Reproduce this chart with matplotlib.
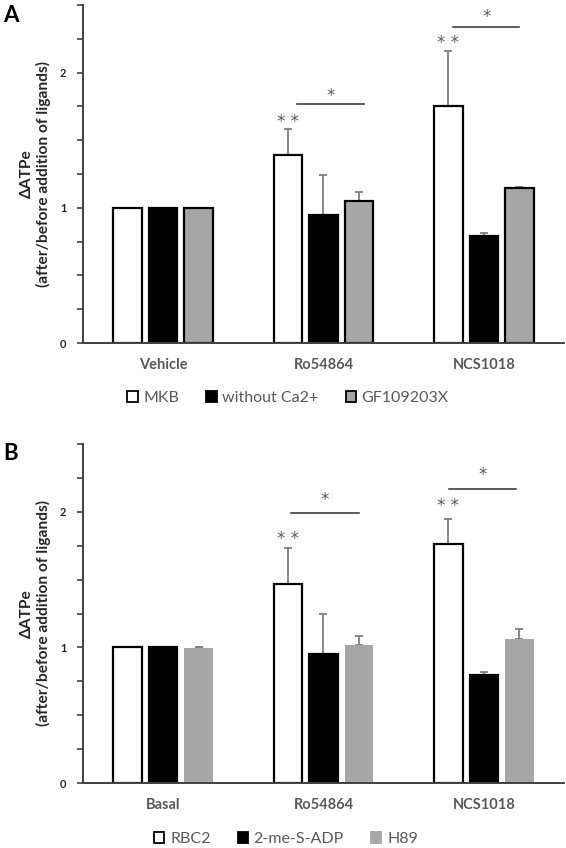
import matplotlib
matplotlib.use("Agg")
import matplotlib.pyplot as plt
import numpy as np
from matplotlib.patches import Patch

plt.rcParams['font.family'] = ['Lato', 'DejaVu Sans']

# ---- data ----
cats_a = ["Vehicle", "Ro54864", "NCS1018"]
series_a = ["MKB", "without Ca2+", "GF109203X"]
mkb = [1.0, 1.39, 1.75]
mkb_err = [0.0, 0.19, 0.41]
noca = [1.0, 0.95, 0.79]
noca_err = [0.0, 0.29, 0.02]
gf = [1.0, 1.05, 1.15]
gf_err = [0.0, 0.07, 0.005]

cats_b = ["Basal", "Ro54864", "NCS1018"]
series_b = ["RBC2", "2-me-S-ADP", "H89"]
rbc2 = [1.0, 1.47, 1.76]
rbc2_err = [0.0, 0.26, 0.19]
mesadp = [1.0, 0.955, 0.795]
mesadp_err = [0.0, 0.29, 0.02]
h89 = [0.995, 1.02, 1.06]
h89_err = [0.005, 0.065, 0.075]

# significance annotations: (category index, y of ** , bracket y, star y, x0, x1)
sig_a = [(1, 1.635, 1.77, 1.83, -0.165, 0.25), (2, 2.22, 2.34, 2.41, -0.19, 0.22)]
sig_b = [(1, 1.80, 1.99, 2.09, -0.20, 0.22), (2, 2.04, 2.17, 2.27, -0.215, 0.20)]

W, H = 566, 848
fig = plt.figure(figsize=(W / 100, H / 100), dpi=100)

GREY = "#a6a6a6"
ERRC = "#7f7f7f"
TXT = "#595959"
AXC = "#404040"


def panel(rect, cats, names, vals, errs, colors, edges, sig, letter, letter_y, leg_x, leg_y):
    ax = fig.add_axes(rect)
    x = np.arange(len(cats))
    off = 0.222
    bw = 0.178
    for i, (v, e, c, ec) in enumerate(zip(vals, errs, colors, edges)):
        pos = x + (i - 1) * off
        ax.bar(pos, v, width=bw, color=c, edgecolor=ec, linewidth=1.6 if ec != "none" else 0, zorder=2)
        ax.errorbar(pos, v, yerr=[np.zeros(len(e)), e], fmt="none", ecolor=ERRC,
                    elinewidth=1.3, capsize=3, capthick=1.3, zorder=1)
    for ci, ys, yl, y1, x0, x1 in sig:
        ax.text(ci - off, ys, "* *", ha="center", va="center", fontsize=12, color=TXT,
                family="DejaVu Sans")
        ax.plot([ci + x0, ci + x1], [yl, yl], color=AXC, lw=1.2)
        ax.text(ci + (x0 + x1) / 2, y1, "*", ha="center", va="center", fontsize=12,
                color=TXT, family="DejaVu Sans")
    ax.set_xlim(-0.5, 2.5)
    ax.set_ylim(0, 2.5)
    ax.set_xticks(x)
    ax.set_xticklabels(cats, fontsize=10.5, fontweight="bold", color=TXT)
    ax.tick_params(axis="x", length=0, pad=11)
    ax.set_yticks([0, 1, 2])
    ax.set_yticklabels(["0", "1", "2"], fontsize=8, fontweight="bold", color="#262626")
    ax.set_yticks(np.arange(0, 2.51, 0.25), minor=True)
    ax.tick_params(axis="y", which="both", length=4, width=1.2, color=AXC, direction="out", pad=8)
    for s in ["top", "right"]:
        ax.spines[s].set_visible(False)
    for s in ["left", "bottom"]:
        ax.spines[s].set_color(AXC)
        ax.spines[s].set_linewidth(1.4)
    ax.set_ylabel("\u0394ATPe\n(after/before addition of ligands)", fontsize=11.2,
                  fontweight="bold", color="#262626", labelpad=6, linespacing=1.2)
    fig.text(0.005, letter_y, letter, fontsize=16, fontweight="bold", va="center", ha="left")
    handles = [Patch(facecolor=c, edgecolor=("black" if ec != "none" else c), linewidth=1.3)
               for c, ec in zip(colors, edges)]
    fig.legend(handles, names, loc="center", bbox_to_anchor=(leg_x, leg_y), ncol=3,
               frameon=False, fontsize=11.5, handlelength=0.65, handleheight=0.65,
               handletextpad=0.35, columnspacing=1.7, labelcolor=TXT)
    return ax


axA = panel([83 / W, 1 - 343 / H, 481 / W, 338 / H], cats_a, series_a,
            [mkb, noca, gf], [mkb_err, noca_err, gf_err],
            ["white", "black", GREY], ["black", "black", "black"], sig_a,
            "A", 1 - 16 / H, 288 / W, 1 - 398 / H)
axB = panel([83 / W, 1 - 783 / H, 481 / W, 339 / H], cats_b, series_b,
            [rbc2, mesadp, h89], [rbc2_err, mesadp_err, h89_err],
            ["white", "black", GREY], ["black", "black", "none"], sig_b,
            "B", 1 - 453 / H, 286 / W, 1 - 839 / H)

fig.savefig("out.png", dpi=100)
